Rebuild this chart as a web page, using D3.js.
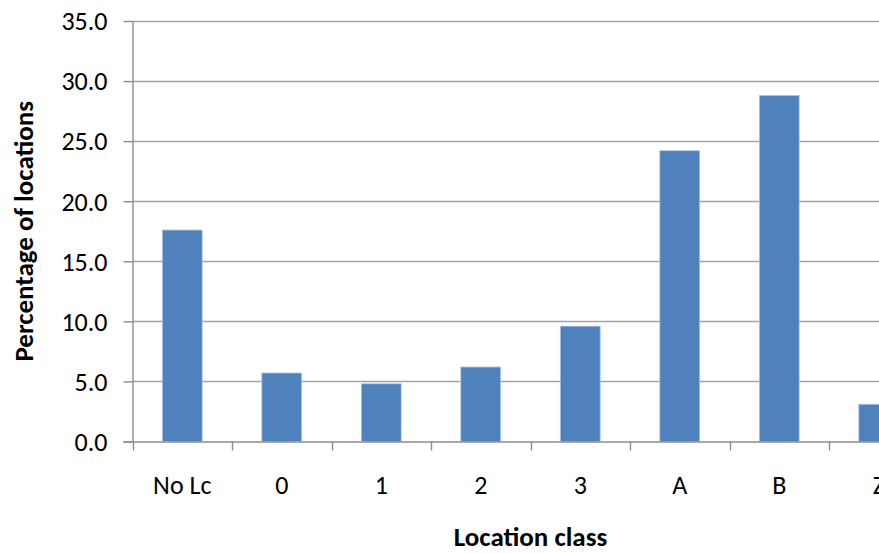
<!DOCTYPE html>
<html>
<head>
<meta charset="utf-8">
<script src="https://cdn.jsdelivr.net/npm/d3@7"></script>
<style>
  html, body { margin: 0; padding: 0; background: #fff; overflow: hidden; }
  svg { display: block; }
  text { font-family: Carlito, Calibri, Lato, "Open Sans", sans-serif; fill: #000; }
</style>
</head>
<body>
<svg id="chart" width="879" height="553"></svg>
<script>
const categories = ["No Lc", "0", "1", "2", "3", "A", "B", "Z"];
const values = [17.6, 5.7, 4.8, 6.2, 9.6, 24.2, 28.8, 3.1];
const yTicks = [0, 5, 10, 15, 20, 25, 30, 35];
const xTitle = "Location class";
const yTitle = "Percentage of locations";

const svg = d3.select("#chart");
const plot = { left: 132.5, right: 928.5, top: 21, bottom: 441.5 };

const x = d3.scaleBand().domain(categories).range([plot.left, plot.right]).paddingInner(0.6).paddingOuter(0.3);
const xTick = d3.scaleBand().domain(categories).range([plot.left, plot.right]);
const y = d3.scaleLinear().domain([0, 35]).range([plot.bottom, plot.top]);

// gridlines
svg.append("g").selectAll("line").data(yTicks.filter(d => d > 0)).join("line")
  .attr("x1", plot.left).attr("x2", plot.right)
  .attr("y1", d => Math.round(y(d)) + 0.5).attr("y2", d => Math.round(y(d)) + 0.5)
  .attr("stroke", "#a3a3a3").attr("stroke-width", 1.4);

// bars
svg.append("g").selectAll("rect").data(values).join("rect")
  .attr("x", (d, i) => x(categories[i]))
  .attr("width", x.bandwidth())
  .attr("y", d => y(d))
  .attr("height", d => y(0) - y(d))
  .attr("fill", "#4f81bd")
  .attr("stroke", "#a9c2e3").attr("stroke-width", 0.8);

// y axis
const yAxis = d3.axisLeft(y).tickValues(yTicks).tickSize(9).tickPadding(16)
  .tickFormat(d3.format(".1f"));
const gy = svg.append("g").attr("transform", `translate(${plot.left},0)`).call(yAxis);
gy.select(".domain").attr("stroke", "#8c8c8c").attr("stroke-width", 1.4).attr("d", `M0.5,${plot.top}V${plot.bottom}`);
gy.selectAll(".tick line").attr("stroke", "#8c8c8c").attr("stroke-width", 1.4);
gy.selectAll(".tick text").style("font-size", "26px").attr("fill", "#000").attr("dy", "0.34em");

// x axis
const xAxisG = svg.append("g").attr("transform", `translate(0,${plot.bottom})`);
xAxisG.append("line").attr("x1", plot.left - 9).attr("x2", plot.right)
  .attr("y1", 0.5).attr("y2", 0.5).attr("stroke", "#8c8c8c").attr("stroke-width", 1.4);
const boundaries = categories.map(c => xTick(c)).concat([plot.right]);
xAxisG.selectAll("line.tk").data(boundaries).join("line").attr("class", "tk")
  .attr("x1", d => Math.round(d) + 0.5).attr("x2", d => Math.round(d) + 0.5)
  .attr("y1", 0).attr("y2", 9).attr("stroke", "#8c8c8c").attr("stroke-width", 1.4);
xAxisG.selectAll("text").data(categories).join("text")
  .attr("x", d => xTick(d) + xTick.bandwidth() / 2)
  .attr("y", 52)
  .attr("text-anchor", "middle")
  .style("font-size", "26px")
  .text(d => d);

// titles
svg.append("text").attr("x", (plot.left + plot.right) / 2).attr("y", 546)
  .attr("text-anchor", "middle").style("font-size", "27px").style("font-weight", "bold")
  .text(xTitle);
svg.append("text").attr("transform", `translate(33,${(plot.top + plot.bottom) / 2}) rotate(-90)`)
  .attr("text-anchor", "middle").style("font-size", "27px").style("font-weight", "bold")
  .text(yTitle);
</script>
</body>
</html>
